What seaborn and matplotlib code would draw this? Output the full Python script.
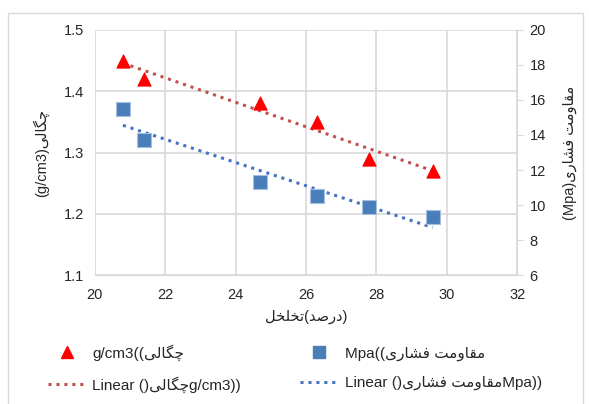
import matplotlib
matplotlib.use('Agg')
import matplotlib.pyplot as plt
import seaborn as sns
import pandas as pd
from matplotlib.lines import Line2D
from matplotlib.patches import Rectangle

# data
porosity = [20.8, 21.4, 24.7, 26.3, 27.8, 29.6]
density = [1.45, 1.42, 1.38, 1.35, 1.29, 1.27]
strength = [15.5, 13.7, 11.3, 10.5, 9.9, 9.3]

x_ticks = [20, 22, 24, 26, 28, 30, 32]
y_left_ticks = [1.1, 1.2, 1.3, 1.4, 1.5]
y_right_ticks = [6, 8, 10, 12, 14, 16, 18, 20]

# minimal persian shaping (matplotlib 3.10 has no bidi / shaping)
FORMS = {
    '\u0627': ('\uFE8D', '\uFE8E', None, None),
    '\u062A': ('\uFE95', '\uFE96', '\uFE97', '\uFE98'),
    '\u062E': ('\uFEA5', '\uFEA6', '\uFEA7', '\uFEA8'),
    '\u062F': ('\uFEA9', '\uFEAA', None, None),
    '\u0631': ('\uFEAD', '\uFEAE', None, None),
    '\u0634': ('\uFEB5', '\uFEB6', '\uFEB7', '\uFEB8'),
    '\u0635': ('\uFEB9', '\uFEBA', '\uFEBB', '\uFEBC'),
    '\u0641': ('\uFED1', '\uFED2', '\uFED3', '\uFED4'),
    '\u0642': ('\uFED5', '\uFED6', '\uFED7', '\uFED8'),
    '\u0644': ('\uFEDD', '\uFEDE', '\uFEDF', '\uFEE0'),
    '\u0645': ('\uFEE1', '\uFEE2', '\uFEE3', '\uFEE4'),
    '\u0648': ('\uFEED', '\uFEEE', None, None),
    '\u0686': ('\uFB7A', '\uFB7B', '\uFB7C', '\uFB7D'),
    '\u06AF': ('\uFB92', '\uFB93', '\uFB94', '\uFB95'),
    '\u06CC': ('\uFBFC', '\uFBFD', '\uFBFE', '\uFBFF'),
}


def fa(text):
    out = []
    for i, c in enumerate(text):
        if c not in FORMS:
            out.append(c)
            continue
        prev = text[i - 1] if i > 0 else ''
        nxt = text[i + 1] if i + 1 < len(text) else ''
        join_prev = prev in FORMS and FORMS[prev][2] is not None
        join_next = FORMS[c][2] is not None and nxt in FORMS
        iso, fin, ini, med = FORMS[c]
        if join_prev and join_next:
            out.append(med)
        elif join_prev:
            out.append(fin)
        elif join_next:
            out.append(ini)
        else:
            out.append(iso)
    return ''.join(reversed(out))


dens_name = fa('چگالی')
str_name = fa('مقاومت فشاری')
x_label = fa('تخلخل') + '(' + fa('درصد') + ')'
left_label = '(g/cm3)' + dens_name
right_label = '(Mpa)' + str_name
leg_dens = 'g/cm3((' + dens_name
leg_str = 'Mpa((' + str_name
leg_dens_lin = 'Linear ()' + dens_name + 'g/cm3))'
leg_str_lin = 'Linear ()' + str_name + 'Mpa))'

df = pd.DataFrame({'porosity': porosity, 'density': density, 'strength': strength})

sns.set_style('white')
plt.rcParams['font.family'] = ['Liberation Sans', 'DejaVu Sans']

red = '#FF0000'
red_line = '#C0504D'
blue = '#4A7EBB'
blue_line = '#4472C4'
grid_c = '#D9D9D9'
text_c = '#262626'

fig = plt.figure(figsize=(5.89, 4.04), dpi=100)
ax = fig.add_axes([0.161, 0.319, 0.717, 0.607])
ax2 = ax.twinx()

sns.regplot(data=df, x='porosity', y='density', ax=ax, scatter=False, ci=None,
            truncate=True, color=red_line, line_kws=dict(linestyle=(0, (1, 1.6)), lw=2.2))
sns.scatterplot(data=df, x='porosity', y='density', ax=ax, marker='^', s=90,
                color=red, edgecolor=red, zorder=5)

sns.regplot(data=df, x='porosity', y='strength', ax=ax2, scatter=False, ci=None,
            truncate=True, color=blue_line, line_kws=dict(linestyle=(0, (1, 1.6)), lw=2.2))
sns.scatterplot(data=df, x='porosity', y='strength', ax=ax2, marker='s', s=90,
                color=blue, edgecolor='#A7BFDE', linewidth=0.8, zorder=5)

ax.set_xlim(20, 32)
ax.set_ylim(1.1, 1.5)
ax2.set_ylim(6, 20)
ax.set_xticks(x_ticks)
ax.set_yticks(y_left_ticks)
ax2.set_yticks(y_right_ticks)
ax.set_xticklabels([str(t) for t in x_ticks])
ax.set_yticklabels(['%.1f' % t for t in y_left_ticks])
ax2.set_yticklabels([str(t) for t in y_right_ticks])

ax.grid(True, color=grid_c, lw=1.2)
ax.set_axisbelow(True)
for a in (ax, ax2):
    for s in a.spines.values():
        s.set_visible(False)
ax.spines['bottom'].set_visible(True)
ax.spines['bottom'].set_color(grid_c)
ax2.spines['right'].set_visible(True)
ax2.spines['right'].set_color(grid_c)
ax.tick_params(axis='x', length=4, color=grid_c, labelsize=10.5, labelcolor=text_c, pad=5)
ax.tick_params(axis='y', length=0, labelsize=10.5, labelcolor=text_c, pad=8)
ax2.tick_params(axis='y', length=4, color=grid_c, labelsize=10.5, labelcolor=text_c, pad=5)

ax.set_xlabel(x_label, fontsize=10.5, color=text_c, labelpad=6)
ax.set_ylabel(left_label, fontsize=10.5, color=text_c, labelpad=10)
ax2.set_ylabel(right_label, fontsize=10.5, color=text_c, labelpad=12)

handles = [
    Line2D([], [], marker='^', color=red, ls='none', markersize=9),
    Line2D([], [], color=red_line, ls=(0, (1, 1.6)), lw=2.2),
    Line2D([], [], marker='s', color=blue, ls='none', markersize=9),
    Line2D([], [], color=blue_line, ls=(0, (1, 1.6)), lw=2.2),
]
labels = [leg_dens, leg_dens_lin, leg_str, leg_str_lin]
fig.legend(handles, labels, ncol=2, loc='center left', bbox_to_anchor=(34 / 589, 0.088),
           frameon=False, fontsize=11, handlelength=2.5, handletextpad=0.4,
           columnspacing=3.9, labelspacing=1.0, labelcolor=text_c)

fig.patches.append(Rectangle((8 / 589, -0.05), 575 / 589, 1.05 - 13 / 404, transform=fig.transFigure,
                             fill=False, edgecolor=grid_c, lw=1.0))

fig.savefig('out.png', dpi=100)
